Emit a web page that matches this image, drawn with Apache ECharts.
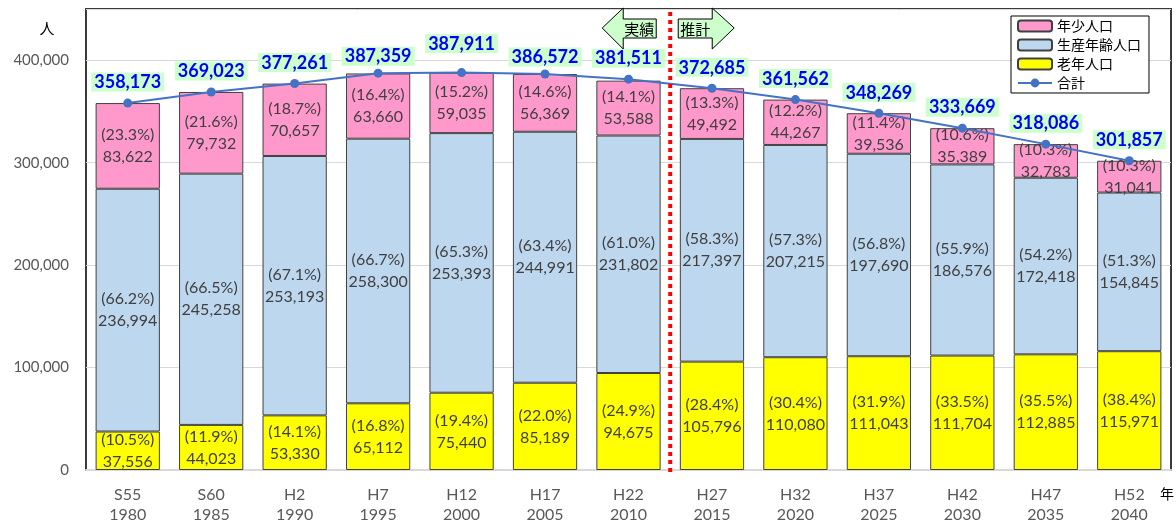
<!DOCTYPE html>
<html><head><meta charset="utf-8">
<script src="https://cdn.jsdelivr.net/npm/echarts@6/dist/echarts.min.js"></script>
<style>html,body{margin:0;padding:0;background:#fff}#c{width:1176px;height:525px}</style>
</head><body><div id="c"></div>
<script>
const categories = ['S55\n1980','S60\n1985','H2\n1990','H7\n1995','H12\n2000','H17\n2005','H22\n2010','H27\n2015','H32\n2020','H37\n2025','H42\n2030','H47\n2035','H52\n2040'];
const youth   = [83622,79732,70657,63660,59035,56369,53588,49492,44267,39536,35389,32783,31041];
const working = [236994,245258,253193,258300,253393,244991,231802,217397,207215,197690,186576,172418,154845];
const elderly = [37556,44023,53330,65112,75440,85189,94675,105796,110080,111043,111704,112885,115971];
const total   = [358173,369023,377261,387359,387911,386572,381511,372685,361562,348269,333669,318086,301857];
const youthPct   = ['23.3','21.6','18.7','16.4','15.2','14.6','14.1','13.3','12.2','11.4','10.6','10.3','10.3'];
const workingPct = ['66.2','66.5','67.1','66.7','65.3','63.4','61.0','58.3','57.3','56.8','55.9','54.2','51.3'];
const elderlyPct = ['10.5','11.9','14.1','16.8','19.4','22.0','24.9','28.4','30.4','31.9','33.5','35.5','38.4'];
const yTicks = [0,100000,200000,300000,400000];

const FONT = 'Lato, "Noto Sans CJK JP", sans-serif';
const fmt = v => v.toLocaleString('en-US');
const totalLabelDist = {3:3, 4:15, 5:3};

function segLabel(pcts, vals){
  return {
    show:true, position:'inside', color:'#404040', fontSize:16, lineHeight:22, fontFamily:FONT,
    formatter: p => '(' + pcts[p.dataIndex] + '%)\n' + fmt(vals[p.dataIndex])
  };
}
const barCommon = {type:'bar', stack:'pop', barCategoryGap:'23%'};

const chart = echarts.init(document.getElementById('c'));
chart.setOption({
  animation:false,
  textStyle:{fontFamily:FONT},
  grid:{left:86,right:5,top:9,bottom:52,show:true,borderColor:'#3a3a3a',borderWidth:2,backgroundColor:'transparent'},
  legend:{
    orient:'vertical', left:1011, top:16, itemGap:5, itemWidth:34, itemHeight:11,
    padding:[3,8,3,6], borderColor:'#000', borderWidth:1, backgroundColor:'#fff',
    textStyle:{fontSize:14,color:'#000',fontFamily:FONT},
    data:['年少人口','生産年齢人口','老年人口','合計']
  },
  xAxis:{
    type:'category', data:categories,
    axisLine:{show:true,lineStyle:{color:'#d9d9d9',width:2}},
    axisTick:{show:false},
    axisLabel:{color:'#595959',fontSize:16,lineHeight:20,margin:15,fontFamily:FONT}
  },
  yAxis:{
    type:'value', min:0, max:450000, interval:100000,
    axisLine:{show:false}, axisTick:{show:false},
    splitLine:{lineStyle:{color:'#d9d9d9',width:1}},
    axisLabel:{color:'#595959',fontSize:15,margin:17,fontFamily:FONT,
      formatter: v => yTicks.indexOf(v) >= 0 ? fmt(v) : ''}
  },
  series:[
    Object.assign({}, barCommon, {name:'老年人口', data:elderly,
      itemStyle:{color:'#FFFF00',borderColor:'#404040',borderWidth:1}, label:segLabel(elderlyPct, elderly)}),
    Object.assign({}, barCommon, {name:'生産年齢人口', data:working,
      itemStyle:{color:'#BDD7EE',borderColor:'#404040',borderWidth:1}, label:segLabel(workingPct, working)}),
    Object.assign({}, barCommon, {name:'年少人口', data:youth,
      itemStyle:{color:'#FF99CC',borderColor:'#404040',borderWidth:1}, label:segLabel(youthPct, youth)}),
    {type:'line', name:'合計', z:5,
      data: total.map((v,i) => ({value:v, label:{distance: totalLabelDist[i] !== undefined ? totalLabelDist[i] : 7}})),
      symbol:'circle', symbolSize:9,
      lineStyle:{color:'#4472C4',width:2}, itemStyle:{color:'#4472C4'},
      label:{show:true, position:'top', color:'#0000FF', fontWeight:'bold', fontSize:18, fontFamily:FONT,
        backgroundColor:'#CCFFCC', padding:[1,3,0,3], formatter: p => fmt(p.value)}
    }
  ]
});

const x6 = chart.convertToPixel({xAxisIndex:0}, 6);
const x7 = chart.convertToPixel({xAxisIndex:0}, 7);
const mid = (x6 + x7) / 2;
const yTop = chart.convertToPixel({yAxisIndex:0}, 450000);
const yBot = chart.convertToPixel({yAxisIndex:0}, 0);

chart.setOption({
  graphic:[
    {type:'line', z:100, shape:{x1:mid,y1:yTop+3,x2:mid,y2:yBot+5},
      style:{stroke:'#FF0000',lineWidth:4,lineDash:[4,4]}},
    {type:'polygon', z:100, shape:{points:[[mid-68,28],[mid-47,8],[mid-47,19],[mid-14,19],[mid-14,38],[mid-47,38],[mid-47,49]]},
      style:{fill:'#CCFFCC',stroke:'#000',lineWidth:1}},
    {type:'text', z:101, x:mid-31, y:29, style:{text:'実績',fill:'#000',font:'15px "Noto Sans CJK JP"',align:'center',verticalAlign:'middle'}},
    {type:'polygon', z:100, shape:{points:[[mid+64,28],[mid+42,8],[mid+42,19],[mid+8,19],[mid+8,38],[mid+42,38],[mid+42,49]]},
      style:{fill:'#CCFFCC',stroke:'#000',lineWidth:1}},
    {type:'text', z:101, x:mid+25, y:29, style:{text:'推計',fill:'#000',font:'15px "Noto Sans CJK JP"',align:'center',verticalAlign:'middle'}},
    {type:'text', x:47, y:28, style:{text:'人',fill:'#000',font:'15px "Noto Sans CJK JP"',align:'center',verticalAlign:'middle'}},
    {type:'text', x:1167, y:494, style:{text:'年',fill:'#000',font:'14px "Noto Sans CJK JP"',align:'center',verticalAlign:'middle'}}
  ]
});
</script></body></html>
